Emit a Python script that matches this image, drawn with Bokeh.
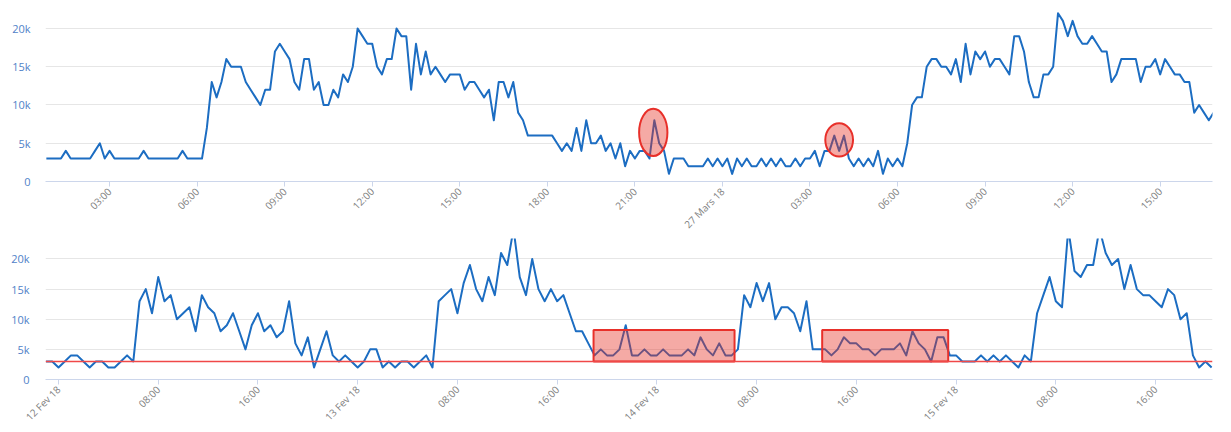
import math
from bokeh.plotting import figure
from bokeh.models import ColumnDataSource, Range1d, FixedTicker, NumeralTickFormatter, Span
from bokeh.layouts import column
from bokeh.embed import file_html
from bokeh.resources import INLINE

# ---------------- data: top chart (26-27 Mars 18), one reading every 10 min from 00:50
top_start_hour = 50 / 60
top_step_hour = 10 / 60
top_values_k = [
    3, 3, 3, 3, 4, 3, 3, 3, 3, 3, 4, 5, 3, 4, 3, 3, 3, 3, 3, 3,
    4, 3, 3, 3, 3, 3, 3, 3, 4, 3, 3, 3, 3, 7, 13, 11, 13, 16, 15, 15,
    15, 13, 12, 11, 10, 12, 12, 17, 18, 17, 16, 13, 12, 16, 16, 12, 13, 10, 10, 12,
    11, 14, 13, 15, 20, 19, 18, 18, 15, 14, 16, 16, 20, 19, 19, 12, 18, 14, 17, 14,
    15, 14, 13, 14, 14, 14, 12, 13, 13, 12, 11, 12, 8, 13, 13, 11, 13, 9, 8, 6,
    6, 6, 6, 6, 6, 5, 4, 5, 4, 7, 4, 8, 5, 5, 6, 4, 5, 3, 5, 2,
    4, 3, 4, 4, 3, 8, 5, 4, 1, 3, 3, 3, 2, 2, 2, 2, 3, 2, 3, 2,
    3, 1, 3, 2, 3, 2, 2, 3, 2, 3, 2, 3, 2, 2, 3, 2, 3, 3, 4, 2,
    4, 4, 6, 4, 6, 3, 2, 3, 2, 3, 2, 4, 1, 3, 2, 3, 2, 5, 10, 11,
    11, 15, 16, 16, 15, 15, 14, 16, 13, 18, 14, 17, 16, 17, 15, 16, 16, 15, 14, 19,
    19, 17, 13, 11, 11, 14, 14, 15, 22, 21, 19, 21, 19, 18, 18, 19, 18, 17, 17, 13,
    14, 16, 16, 16, 16, 13, 15, 15, 16, 14, 16, 15, 14, 14, 13, 13, 9, 10, 9, 8,
    9,
]
top_tick_hours = [3, 6, 9, 12, 15, 18, 21, 24, 27, 30, 33, 36, 39]
top_tick_labels = ["03:00", "06:00", "09:00", "12:00", "15:00", "18:00", "21:00",
                   "27 Mars 18", "03:00", "06:00", "09:00", "12:00", "15:00"]
# highlighted spikes (ellipses)
spike_hour = [21.63, 28.0]
spike_k = [6.42, 5.44]
spike_width_hours = [0.97, 0.95]
spike_height_k = [6.2, 4.35]

# ---------------- data: bottom chart (12-15 Fev 18), one reading every 30 min from 11 Fev 23:00
bottom_start_hour = -1.0
bottom_step_hour = 0.5
bottom_values_k = [
    3, 3, 2, 3, 4, 4, 3, 2, 3, 3, 2, 2, 3, 4, 3,
    13, 15, 11, 17, 13, 14, 10, 11, 12, 8, 14, 12, 11, 8, 9, 11, 8, 5, 9, 11,
    8, 9, 7, 8, 13, 6, 4, 7, 2, 5, 8, 4, 3, 4, 3, 2, 3, 5, 5, 2, 3, 2, 3, 3, 2, 3, 4, 2,
    13, 14, 15, 11, 16, 19, 15, 13, 17, 14,
    21, 19, 25, 17, 14, 20, 15, 13, 15, 13,
    14, 11, 8, 8, 6, 4, 5, 4, 4, 5,
    9, 4, 4, 5, 4, 4, 5, 4, 4, 4,
    5, 4, 7, 5, 4, 6, 4, 4, 5, 14,
    12, 16, 13, 16, 10, 12, 12, 11, 8, 13,
    5, 5,
    5, 4, 5, 7, 6, 6, 5, 5, 4, 5,
    5, 5, 6, 4, 8, 6, 5, 3, 7, 7,
    4, 4, 3, 3, 3, 4, 3, 4, 3, 4,
    3, 2, 4, 3, 11, 14, 17, 13, 12, 25,
    18, 17, 19, 19, 25, 21, 19, 20, 15, 19,
    15, 14, 14, 13, 12, 15, 14, 10, 11, 4,
    2, 3, 2,
]
bottom_tick_hours = [0, 8, 16, 24, 32, 40, 48, 56, 64, 72, 80, 88]
bottom_tick_labels = ["12 Fev 18", "08:00", "16:00", "13 Fev 18", "08:00", "16:00",
                      "14 Fev 18", "08:00", "16:00", "15 Fev 18", "08:00", "16:00"]
threshold_k = 3
box_start_hour = [42.92, 61.26]
box_end_hour = [54.23, 71.37]
box_low_k = [3.0, 3.0]
box_high_k = [8.2, 8.2]

y_ticks_k = [0, 5, 10, 15, 20]

# ---------------- styles
LINE = "#1c6dc2"
RED = "#e8302a"
FONT = "Open Sans"


def style(p, ticks, labels, standoff):
    p.outline_line_color = None
    p.background_fill_color = "white"
    p.xgrid.grid_line_color = None
    p.ygrid.grid_line_color = "#e6e6e6"
    p.ygrid.grid_line_width = 1
    p.yaxis.ticker = FixedTicker(ticks=[v * 1000 for v in y_ticks_k])
    p.yaxis.formatter = NumeralTickFormatter(format="0a")
    p.yaxis.axis_line_color = None
    p.yaxis.major_tick_line_color = None
    p.yaxis.minor_tick_line_color = None
    p.yaxis.major_tick_out = 0
    p.yaxis.major_tick_in = 0
    p.yaxis.major_label_standoff = standoff
    p.yaxis.major_label_text_color = "#5082c8"
    p.yaxis.major_label_text_font = FONT
    p.yaxis.major_label_text_font_size = "11px"
    p.xaxis.ticker = FixedTicker(ticks=ticks)
    p.xaxis.major_label_overrides = {t: l for t, l in zip(ticks, labels)}
    p.xaxis.major_label_orientation = math.pi / 4
    p.xaxis.axis_line_color = "#ccd6eb"
    p.xaxis.major_tick_line_color = "#ccd6eb"
    p.xaxis.minor_tick_line_color = None
    p.xaxis.major_tick_out = 5
    p.xaxis.major_tick_in = 0
    p.xaxis.major_label_standoff = 3
    p.xaxis.major_label_text_color = "#808080"
    p.xaxis.major_label_text_font = FONT
    p.xaxis.major_label_text_font_size = "10px"


# ---------------- top figure
top_src = ColumnDataSource(dict(
    hour=[top_start_hour + i * top_step_hour for i in range(len(top_values_k))],
    val=[v * 1000 for v in top_values_k],
))
p1 = figure(width=1231, height=238, output_backend="svg", toolbar_location=None,
            x_range=Range1d(0.804, 40.793), y_range=Range1d(0, 23660),
            min_border_left=42, min_border_right=0, min_border_top=0, min_border_bottom=57)
style(p1, top_tick_hours, top_tick_labels, 15)
p1.line("hour", "val", source=top_src, line_color=LINE, line_width=2, line_join="round")
p1.ellipse(x=spike_hour, y=[v * 1000 for v in spike_k],
           width=spike_width_hours, height=[v * 1000 for v in spike_height_k],
           fill_color="#e62b1e", fill_alpha=0.4, line_color=RED, line_width=2)

# ---------------- bottom figure
bot_src = ColumnDataSource(dict(
    hour=[bottom_start_hour + i * bottom_step_hour for i in range(len(bottom_values_k))],
    val=[v * 1000 for v in bottom_values_k],
))
p2 = figure(width=1231, height=194, output_backend="svg", toolbar_location=None,
            x_range=Range1d(-1.043, 92.57), y_range=Range1d(0, 23400),
            min_border_left=45, min_border_right=19, min_border_top=0, min_border_bottom=53)
style(p2, bottom_tick_hours, bottom_tick_labels, 16)
p2.line("hour", "val", source=bot_src, line_color=LINE, line_width=2, line_join="round")
p2.quad(left=box_start_hour, right=box_end_hour,
        bottom=[v * 1000 for v in box_low_k], top=[v * 1000 for v in box_high_k],
        fill_color="#e62b1e", fill_alpha=0.4, line_color=RED, line_width=2)
p2.add_layout(Span(location=threshold_k * 1000, dimension="width",
                   line_color="#f04848", line_width=1.5))

layout = column(p1, p2)

open("out.html", "w").write(file_html(layout, INLINE))
